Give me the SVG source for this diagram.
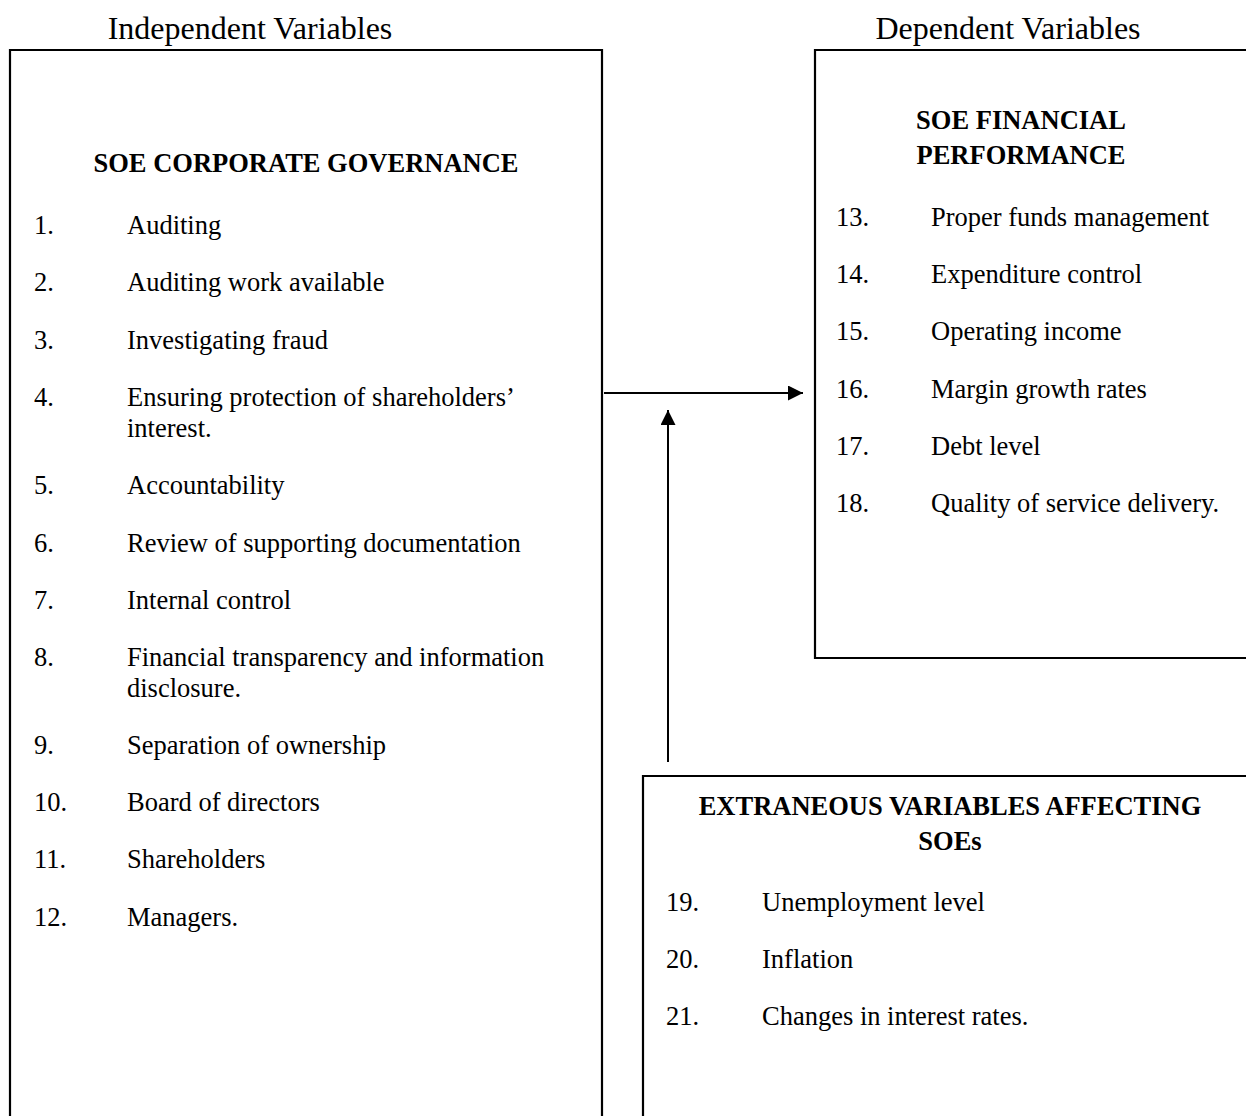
<svg xmlns="http://www.w3.org/2000/svg" width="1246" height="1116" viewBox="0 0 1246 1116">
  <style>
    text { font-family: "Liberation Serif", "Times New Roman", serif; font-size: 26.5px; fill: #000; }
    .title { font-size: 32px; }
    .head { font-weight: bold; }
    .mid { text-anchor: middle; }
    .box { fill: none; stroke: #000; stroke-width: 2.2; }
    .conn { fill: none; stroke: #000; stroke-width: 2; }
  </style>
  <defs>
    <marker id="arrow" viewBox="0 0 10 10" refX="10" refY="5" markerWidth="7.5" markerHeight="7.5" markerUnits="strokeWidth" orient="auto">
      <path d="M0,0 L10,5 L0,10 z" fill="#000"/>
    </marker>
  </defs>
  <rect width="1246" height="1116" fill="#fff"/>

  <!-- column titles -->
  <text x="250" y="39" class="mid title">Independent Variables</text>
  <text x="1008" y="39" class="mid title">Dependent Variables</text>

  <!-- independent variables -->
  <g id="node-governance">
    <path class="box" d="M10,1120 V50 H602 V1120"/>
    <text x="306" y="172" class="mid head">SOE CORPORATE GOVERNANCE</text>
    <text x="34" y="234">1.</text><text x="127" y="234">Auditing</text>
    <text x="34" y="291">2.</text><text x="127" y="291">Auditing work available</text>
    <text x="34" y="349">3.</text><text x="127" y="349">Investigating fraud</text>
    <text x="34" y="406">4.</text><text x="127" y="406">Ensuring protection of shareholders’</text>
    <text x="127" y="437">interest.</text>
    <text x="34" y="494">5.</text><text x="127" y="494">Accountability</text>
    <text x="34" y="552">6.</text><text x="127" y="552">Review of supporting documentation</text>
    <text x="34" y="609">7.</text><text x="127" y="609">Internal control</text>
    <text x="34" y="666">8.</text><text x="127" y="666">Financial transparency and information</text>
    <text x="127" y="697">disclosure.</text>
    <text x="34" y="754">9.</text><text x="127" y="754">Separation of ownership</text>
    <text x="34" y="811">10.</text><text x="127" y="811">Board of directors</text>
    <text x="34" y="868">11.</text><text x="127" y="868">Shareholders</text>
    <text x="34" y="926">12.</text><text x="127" y="926">Managers.</text>
  </g>

  <!-- dependent variables -->
  <g id="node-performance">
    <path class="box" d="M1250,50 H815 V658 H1250"/>
    <text x="1021" y="129" class="mid head">SOE FINANCIAL</text>
    <text x="1021" y="164" class="mid head">PERFORMANCE</text>
    <text x="836" y="226">13.</text><text x="931" y="226">Proper funds management</text>
    <text x="836" y="283">14.</text><text x="931" y="283">Expenditure control</text>
    <text x="836" y="340">15.</text><text x="931" y="340">Operating income</text>
    <text x="836" y="398">16.</text><text x="931" y="398">Margin growth rates</text>
    <text x="836" y="455">17.</text><text x="931" y="455">Debt level</text>
    <text x="836" y="512">18.</text><text x="931" y="512">Quality of service delivery.</text>
  </g>

  <!-- extraneous variables -->
  <g id="node-extraneous">
    <path class="box" d="M643,1120 V776 H1250"/>
    <text x="950" y="815" class="mid head">EXTRANEOUS VARIABLES AFFECTING</text>
    <text x="950" y="850" class="mid head">SOEs</text>
    <text x="666" y="911">19.</text><text x="762" y="911">Unemployment level</text>
    <text x="666" y="968">20.</text><text x="762" y="968">Inflation</text>
    <text x="666" y="1025">21.</text><text x="762" y="1025">Changes in interest rates.</text>
  </g>

  <!-- connectors -->
  <g id="connectors">
    <line class="conn" x1="604" y1="393" x2="803" y2="393" marker-end="url(#arrow)"/>
    <line class="conn" x1="668" y1="762" x2="668" y2="410" marker-end="url(#arrow)"/>
  </g>
</svg>
